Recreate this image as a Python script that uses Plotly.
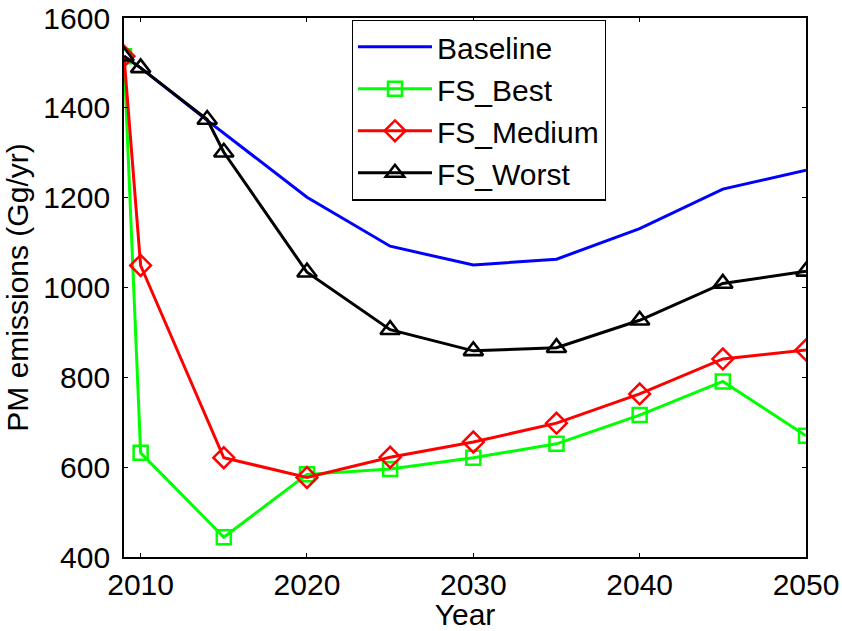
import plotly.graph_objects as go

years_base = [2009, 2010, 2014, 2020, 2025, 2030, 2035, 2040, 2045, 2050]
baseline = [1515, 1489, 1372, 1201, 1092, 1050, 1063, 1131, 1219, 1261]

years_fs = [2009, 2010, 2015, 2020, 2025, 2030, 2035, 2040, 2045, 2050]
fs_best = [1515, 632, 444, 584, 596, 621, 652, 716, 791, 670]
fs_medium = [1515, 1049, 621, 577, 622, 656, 698, 763, 841, 861]

years_worst = [2009, 2010, 2014, 2015, 2020, 2025, 2030, 2035, 2040, 2045, 2050]
fs_worst = [1515, 1489, 1374, 1301, 1034, 906, 859, 866, 927, 1009, 1036]

x_ticks = [2010, 2020, 2030, 2040, 2050]
y_ticks = [400, 600, 800, 1000, 1200, 1400, 1600]

FONT = "Liberation Sans, Arial, sans-serif"

fig = go.Figure()
fig.add_trace(go.Scatter(x=years_base, y=baseline, name="Baseline", mode="lines",
                         line=dict(color="#0000ff", width=3)))
fig.add_trace(go.Scatter(x=years_fs, y=fs_best, name="FS_Best", mode="lines+markers",
                         line=dict(color="#00ff00", width=3),
                         marker=dict(symbol="square-open", size=14, color="#00ff00",
                                     line=dict(width=2.5, color="#00ff00"))))
fig.add_trace(go.Scatter(x=years_fs, y=fs_medium, name="FS_Medium", mode="lines+markers",
                         line=dict(color="#ff0000", width=3),
                         marker=dict(symbol="diamond-open", size=16, color="#ff0000",
                                     line=dict(width=2.5, color="#ff0000"))))
fig.add_trace(go.Scatter(x=years_worst, y=fs_worst, name="FS_Worst", mode="lines+markers",
                         line=dict(color="#000000", width=3),
                         marker=dict(symbol="triangle-up-open", size=17, color="#000000",
                                     line=dict(width=2.6, color="#000000"))))

axis_common = dict(showgrid=False, zeroline=False, showline=True, linecolor="black",
                   linewidth=1.8, mirror="ticks", ticks="inside", ticklen=4,
                   tickcolor="black", tickwidth=1, ticklabeloverflow="allow",
                   automargin=False,
                   tickfont=dict(family=FONT, size=30, color="black"))

fig.update_xaxes(range=[2009, 2050], tickvals=x_ticks,
                 title=dict(text="Year", font=dict(family=FONT, size=30, color="black"),
                            standoff=2),
                 **axis_common)
fig.update_yaxes(range=[400, 1600], tickvals=y_ticks, ticklabelstandoff=6,
                 title=dict(text="PM emissions (Gg/yr)",
                            font=dict(family=FONT, size=30, color="black"), standoff=6),
                 **axis_common)

fig.update_layout(
    width=842, height=631,
    margin=dict(l=124, r=36, t=18, b=74, autoexpand=False),
    plot_bgcolor="white", paper_bgcolor="white",
    font=dict(family=FONT, size=30, color="black"),
    showlegend=True,
    legend=dict(x=0.334, y=0.997, xanchor="left", yanchor="top",
                bgcolor="white", bordercolor="black", borderwidth=1.2,
                font=dict(family=FONT, size=30, color="black"),
                itemwidth=74, tracegroupgap=0),
)

fig.write_html("out.html")
